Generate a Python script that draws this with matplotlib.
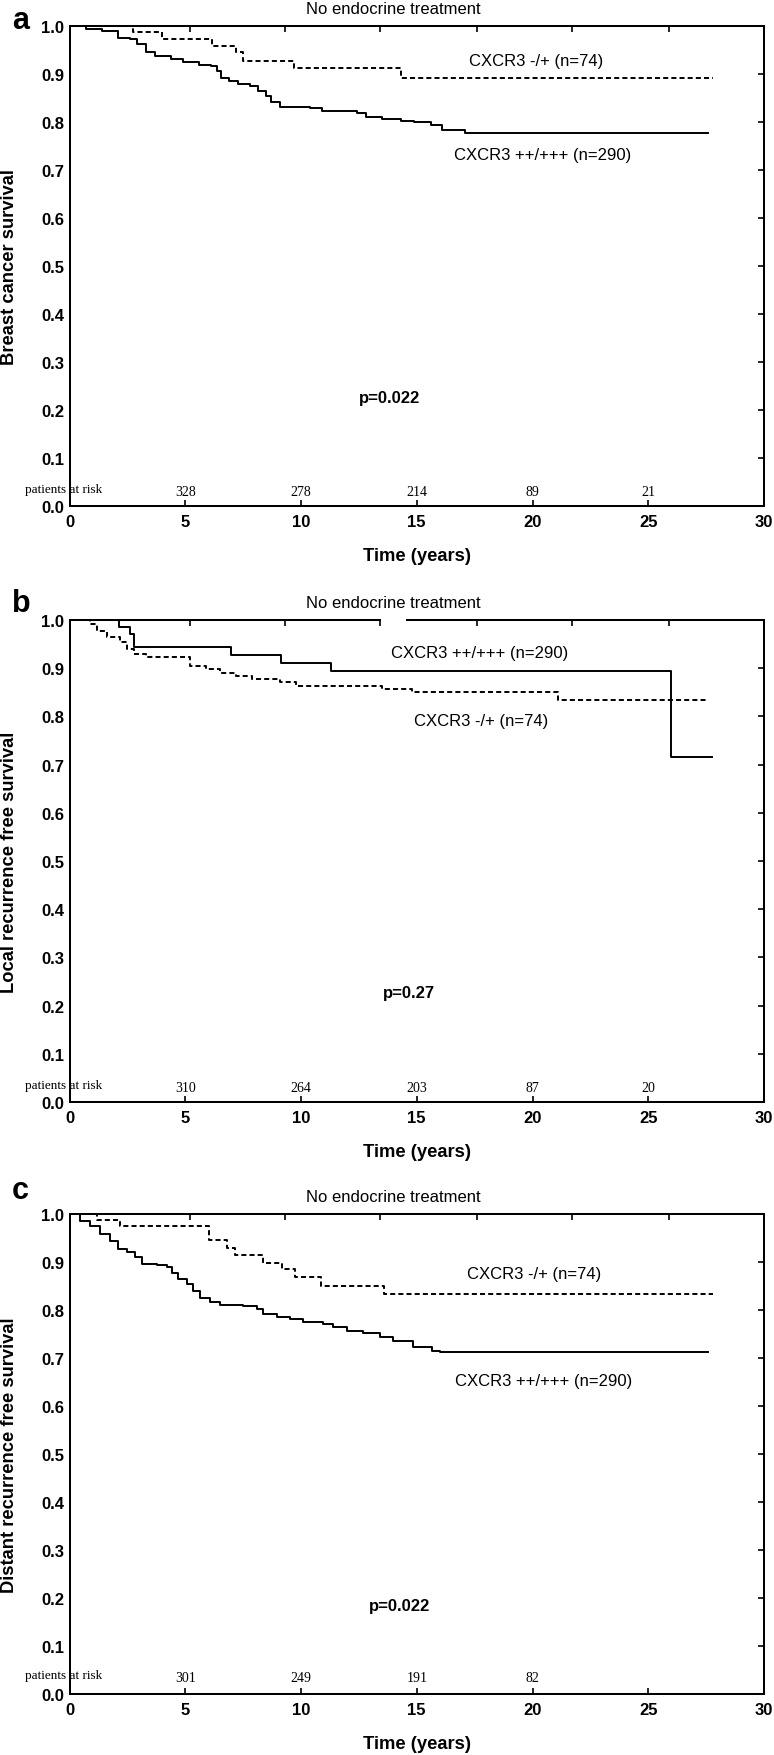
import matplotlib
matplotlib.use('Agg')
import matplotlib.pyplot as plt

plt.rcParams['font.family'] = ['Liberation Sans', 'DejaVu Sans']

# panel a - breast cancer survival
a_solid_t = [0, 0.7, 1.4, 2.1, 2.6, 2.9, 3.3, 3.7, 4.4, 4.9, 5.6, 6.1, 6.35, 6.55, 6.9, 7.3,
             7.8, 8.15, 8.5, 8.7, 9.1, 10.4, 10.9, 12.4, 12.8, 13.5, 14.3, 14.9, 15.6, 16.1,
             17.1, 27.6]
a_solid_s = [1.0, 0.994, 0.989, 0.976, 0.973, 0.962, 0.946, 0.937, 0.931, 0.926, 0.919, 0.917,
             0.907, 0.891, 0.886, 0.879, 0.874, 0.865, 0.855, 0.841, 0.831, 0.829, 0.823, 0.819,
             0.811, 0.806, 0.803, 0.799, 0.794, 0.784, 0.777, 0.777]
a_dashed_t = [0, 2.74, 3.99, 6.17, 7.2, 7.5, 9.7, 14.3, 27.8]
a_dashed_s = [1.0, 0.987, 0.973, 0.958, 0.945, 0.928, 0.912, 0.892, 0.892]

# panel b - local recurrence free survival
b_solid_t = [0, 2.15, 2.6, 2.8, 6.96, 9.12, 11.3, 25.98, 27.77]
b_solid_s = [1.0, 0.985, 0.971, 0.943, 0.928, 0.911, 0.894, 0.716, 0.716]
b_dashed_t = [0, 0.9, 1.2, 1.6, 2.2, 2.5, 2.8, 3.3, 5.2, 5.9, 6.5, 7.2, 7.9, 9.1, 9.8, 13.5,
              14.8, 21.1, 27.6]
b_dashed_s = [1.0, 0.992, 0.978, 0.964, 0.954, 0.940, 0.929, 0.923, 0.905, 0.898, 0.891, 0.884,
              0.877, 0.871, 0.864, 0.857, 0.850, 0.834, 0.834]

# panel c - distant recurrence free survival
c_solid_t = [0, 0.45, 0.89, 1.32, 1.75, 2.11, 2.47, 2.83, 3.12, 3.77, 4.2, 4.41, 4.7, 5.06,
             5.35, 5.64, 6.07, 6.5, 7.51, 8.09, 8.37, 8.95, 9.52, 10.1, 10.96, 11.4, 11.97,
             12.69, 13.41, 13.99, 14.85, 15.65, 16.0, 27.6]
c_solid_s = [1.0, 0.986, 0.976, 0.958, 0.944, 0.927, 0.921, 0.910, 0.896, 0.894, 0.889, 0.878,
             0.865, 0.854, 0.840, 0.826, 0.816, 0.810, 0.809, 0.802, 0.792, 0.785, 0.781, 0.774,
             0.771, 0.765, 0.756, 0.752, 0.744, 0.736, 0.722, 0.715, 0.712, 0.712]
c_dashed_t = [0, 1.17, 2.18, 6.04, 6.79, 7.15, 8.37, 9.17, 9.74, 10.85, 13.59, 27.8]
c_dashed_s = [1.0, 0.987, 0.974, 0.946, 0.929, 0.915, 0.898, 0.885, 0.868, 0.851, 0.833, 0.833]

risk_years = [5, 10, 15, 20, 25]
a_at_risk = [328, 278, 214, 89, 21]
b_at_risk = [310, 264, 203, 87, 20]
c_at_risk = [301, 249, 191, 82]

letters = ['a', 'b', 'c']
ylabels = ['Breast cancer survival', 'Local recurrence free survival',
           'Distant recurrence free survival']
pvalues = ['p=0.022', 'p=0.27', 'p=0.022']
label_neg = 'CXCR3 -/+ (n=74)'
label_pos = 'CXCR3 ++/+++ (n=290)'
title = 'No endocrine treatment'

W, H = 774, 1756
fig = plt.figure(figsize=(W / 100, H / 100), dpi=100)

# (top px, bottom px, letter baseline px)
boxes = [(27, 507, 29), (621, 1103, 612), (1215, 1695, 1199)]
left_px, right_px = 69.5, 764

panels = [
    (a_solid_t, a_solid_s, a_dashed_t, a_dashed_s, a_at_risk,
     [(label_neg, 20.15, 0.929), (label_pos, 20.45, 0.733)], (13.84, 0.227), 0.030),
    (b_solid_t, b_solid_s, b_dashed_t, b_dashed_s, b_at_risk,
     [(label_pos, 17.73, 0.933), (label_neg, 17.77, 0.792)], (14.67, 0.228), 0.031),
    (c_solid_t, c_solid_s, c_dashed_t, c_dashed_s, c_at_risk,
     [(label_neg, 20.06, 0.876), (label_pos, 20.48, 0.653)], (14.27, 0.185), 0.035),
]
top_tick_years = [5.2, 9.3, 13.4, 17.6, 21.7, 25.9]
lw = 1.45

for i, (st, ss, dt, ds, risk, labels, pv, risk_y) in enumerate(panels):
    top, bottom, letter_base = boxes[i]
    ax = fig.add_axes([left_px / W, 1 - bottom / H, (right_px - left_px) / W, (bottom - top) / H])
    ax.plot(st, ss, drawstyle='steps-post', color='k', lw=1.4)
    ax.plot(dt, ds, drawstyle='steps-post', color='k', lw=1.4, linestyle=(0, (2.6, 1.6)))
    ax.set_xlim(0, 30)
    ax.set_ylim(0, 1.0)
    ax.set_xticks(range(0, 31, 5))
    ax.set_yticks([k / 10 for k in range(11)])
    ax.set_yticklabels(['%.1f' % (k / 10) for k in range(11)])
    for sp in ax.spines.values():
        sp.set_linewidth(lw)
    ax.tick_params(axis='x', direction='in', length=4, width=1.2, pad=6,
                   labelsize=12)
    ax.tick_params(axis='y', direction='in', length=4, width=1.2, pad=4,
                   left=False, right=True, labelsize=12)
    for lab in ax.get_xticklabels() + ax.get_yticklabels():
        lab.set_fontweight('bold')

    sec = ax.secondary_xaxis('top')
    sec.set_xticks(top_tick_years)
    sec.tick_params(direction='in', length=4, width=1.2, labeltop=False)
    for sp in sec.spines.values():
        sp.set_visible(False)

    if i == 1:
        # break in the top frame line
        ax.spines['top'].set_bounds(0, 13.42)
        ax.axhline(1.0, xmin=14.56 / 30, xmax=1, color='k', lw=lw, clip_on=False)

    ax.set_xlabel('Time (years)', fontsize=13.2, fontweight='bold', labelpad=13)
    ax.set_ylabel(ylabels[i], fontsize=13.2, fontweight='bold')
    ax.yaxis.set_label_coords(-0.074, 0.5)

    ax.annotate(title, xy=(14, 1.0), xytext=(0, 9.7), textcoords='offset points',
                ha='center', va='baseline', fontsize=12, annotation_clip=False)
    for txt, x, y in labels:
        ax.text(x, y, txt, ha='center', va='center', fontsize=12)
    ax.text(pv[0], pv[1], pvalues[i], ha='center', va='center', fontsize=12,
            fontweight='bold')

    serif = ['Liberation Serif', 'DejaVu Serif']
    ax.text(-1.92, risk_y + 0.005, 'patients at risk', ha='left', va='center',
            fontsize=9.5, family=serif, clip_on=False)
    for yr, n in zip(risk_years, risk):
        ax.text(yr, risk_y, str(n), ha='center', va='center', fontsize=10, family=serif)

    fig.text(12 / W, 1 - letter_base / H, letters[i], fontsize=22, fontweight='bold',
             va='baseline', ha='left')

fig.savefig('out.png', dpi=100)
